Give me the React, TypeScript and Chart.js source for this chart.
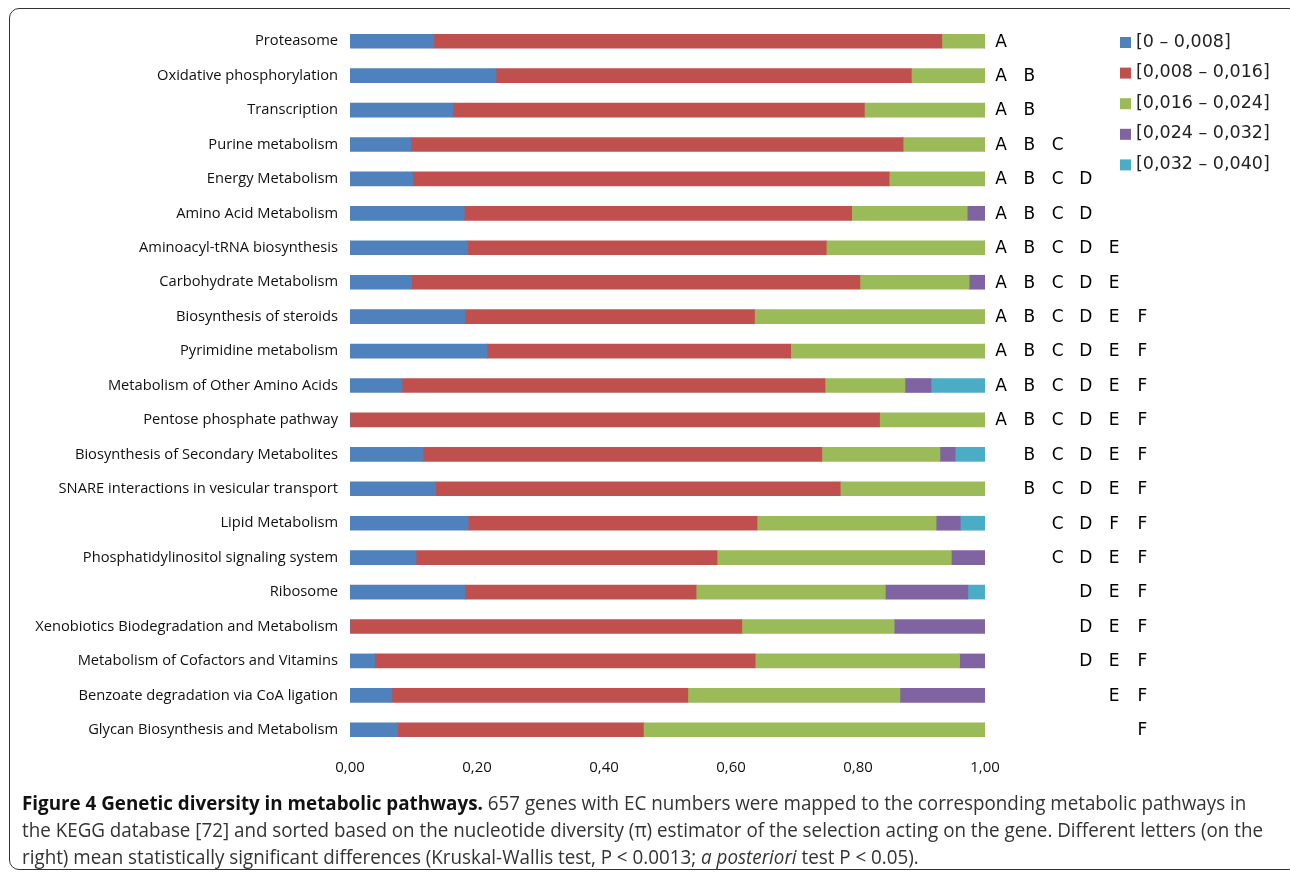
import React, { useEffect, useRef } from "react";
import { Chart, registerables } from "chart.js";

Chart.register(...registerables);

const categories = [
  "Proteasome",
  "Oxidative phosphorylation",
  "Transcription",
  "Purine metabolism",
  "Energy Metabolism",
  "Amino Acid Metabolism",
  "Aminoacyl-tRNA biosynthesis",
  "Carbohydrate Metabolism",
  "Biosynthesis of steroids",
  "Pyrimidine metabolism",
  "Metabolism of Other Amino Acids",
  "Pentose phosphate pathway",
  "Biosynthesis of Secondary Metabolites",
  "SNARE interactions in vesicular transport",
  "Lipid Metabolism",
  "Phosphatidylinositol signaling system",
  "Ribosome",
  "Xenobiotics Biodegradation and Metabolism",
  "Metabolism of Cofactors and Vitamins",
  "Benzoate degradation via CoA ligation",
  "Glycan Biosynthesis and Metabolism",
];

const seriesLabels = [
  "[0 – 0,008]",
  "[0,008 – 0,016]",
  "[0,016 – 0,024]",
  "[0,024 – 0,032]",
  "[0,032 – 0,040]",
];

const seriesColors = ["#4F81BD", "#C0504D", "#9BBB59", "#8064A2", "#4BACC6"];

const range1 = [0.132, 0.230, 0.162, 0.096, 0.099, 0.180, 0.185, 0.097, 0.181, 0.216, 0.082, 0.0, 0.115, 0.135, 0.186, 0.104, 0.181, 0.0, 0.039, 0.066, 0.075];
const range2 = [0.800, 0.654, 0.648, 0.775, 0.750, 0.610, 0.565, 0.706, 0.456, 0.478, 0.666, 0.834, 0.628, 0.637, 0.455, 0.474, 0.364, 0.617, 0.599, 0.466, 0.387];
const range3 = [0.068, 0.116, 0.190, 0.129, 0.151, 0.182, 0.250, 0.172, 0.363, 0.306, 0.126, 0.166, 0.186, 0.228, 0.282, 0.369, 0.298, 0.240, 0.322, 0.334, 0.538];
const range4 = [0, 0, 0, 0, 0, 0.028, 0, 0.025, 0, 0, 0.041, 0, 0.024, 0, 0.038, 0.053, 0.130, 0.143, 0.040, 0.134, 0];
const range5 = [0, 0, 0, 0, 0, 0, 0, 0, 0, 0, 0.085, 0, 0.047, 0, 0.039, 0, 0.027, 0, 0, 0, 0];

// letters per row, "" means empty slot
const groupLetters = [
  ["A", "", "", "", "", ""],
  ["A", "B", "", "", "", ""],
  ["A", "B", "", "", "", ""],
  ["A", "B", "C", "", "", ""],
  ["A", "B", "C", "D", "", ""],
  ["A", "B", "C", "D", "", ""],
  ["A", "B", "C", "D", "E", ""],
  ["A", "B", "C", "D", "E", ""],
  ["A", "B", "C", "D", "E", "F"],
  ["A", "B", "C", "D", "E", "F"],
  ["A", "B", "C", "D", "E", "F"],
  ["A", "B", "C", "D", "E", "F"],
  ["", "B", "C", "D", "E", "F"],
  ["", "B", "C", "D", "E", "F"],
  ["", "", "C", "D", "F", "F"],
  ["", "", "C", "D", "E", "F"],
  ["", "", "", "D", "E", "F"],
  ["", "", "", "D", "E", "F"],
  ["", "", "", "D", "E", "F"],
  ["", "", "", "", "E", "F"],
  ["", "", "", "", "", "F"],
];

const xTicks = [0, 0.2, 0.4, 0.6, 0.8, 1.0];

const lettersAndLegendPlugin = {
  id: "lettersAndLegend",
  afterDraw(chart: any) {
    const ctx = chart.ctx;
    const yScale = chart.scales.y;
    const area = chart.chartArea;
    ctx.save();
    // significance letters
    ctx.font = "17px 'DejaVu Sans'";
    ctx.fillStyle = "#000";
    ctx.textAlign = "center";
    ctx.textBaseline = "middle";
    const firstX = area.right + 16;
    const step = 28.3;
    groupLetters.forEach((row, i) => {
      const y = yScale.getPixelForValue(i);
      row.forEach((letter, j) => {
        if (letter) ctx.fillText(letter, firstX + j * step, y + 1);
      });
    });
    // legend
    const lx = area.right + 135;
    const ly0 = 42;
    const lstep = 30.6;
    ctx.font = "17.5px 'DejaVu Sans'";
    ctx.textAlign = "left";
    seriesLabels.forEach((lab, k) => {
      const y = ly0 + k * lstep;
      ctx.fillStyle = seriesColors[k];
      ctx.fillRect(lx, y - 5, 11, 11);
      ctx.fillStyle = "#222";
      ctx.fillText(lab, lx + 16, y);
    });
    ctx.restore();
  },
};

export default function App() {
  const canvasRef = useRef<HTMLCanvasElement | null>(null);

  useEffect(() => {
    if (!canvasRef.current) return;
    const data = [range1, range2, range3, range4, range5];
    const chart = new Chart(canvasRef.current, {
      type: "bar",
      data: {
        labels: categories,
        datasets: data.map((d, i) => ({
          label: seriesLabels[i],
          data: d,
          backgroundColor: seriesColors[i],
          borderWidth: 0,
          barThickness: 14,
        })),
      },
      options: {
        indexAxis: "y",
        animation: false,
        responsive: false,
        maintainAspectRatio: false,
        layout: {
          padding: { left: 0, right: 305, top: 24, bottom: 13 },
        },
        plugins: {
          legend: { display: false },
          tooltip: { enabled: false },
        },
        scales: {
          x: {
            stacked: true,
            min: 0,
            max: 1,
            afterBuildTicks: (scale: any) => {
              scale.ticks = xTicks.map((v) => ({ value: v }));
            },
            afterFit: (scale: any) => {
              scale.height = 40;
            },
            grid: { display: false, drawTicks: false },
            border: { display: false },
            ticks: {
              padding: 12,
              color: "#111",
              font: { family: "'Open Sans'", size: 15 },
              callback: (v: any) => Number(v).toFixed(2).replace(".", ","),
            },
          },
          y: {
            stacked: true,
            afterFit: (scale: any) => {
              scale.width = 350;
            },
            grid: { display: false, drawTicks: false },
            border: { display: false },
            ticks: {
              padding: 12,
              color: "#111",
              font: { family: "'Open Sans'", size: 14.7 },
              autoSkip: false,
            },
          },
        },
      },
      plugins: [lettersAndLegendPlugin],
    });
    return () => chart.destroy();
  }, []);

  return (
    <div style={{ position: "fixed", left: 0, top: 0, width: 1290, height: 873, background: "#fff", overflow: "hidden" }}>
      <div
        style={{
          position: "absolute",
          left: 9,
          top: 8,
          width: 1290,
          height: 862,
          border: "1.5px solid #333",
          borderRadius: 10,
          boxSizing: "border-box",
        }}
      />
      <canvas
        ref={canvasRef}
        width={1290}
        height={800}
        style={{ position: "absolute", left: 0, top: 0, width: 1290, height: 800 }}
      />
      <div
        style={{
          position: "absolute",
          left: 22,
          top: 789,
          fontFamily: "'Open Sans', sans-serif",
          fontSize: 20,
          lineHeight: "27px",
          color: "#333",
          whiteSpace: "nowrap",
          transform: "scaleX(0.94)",
          transformOrigin: "left top",
        }}
      >
        <b style={{ color: "#111" }}>Figure 4 Genetic diversity in metabolic pathways.</b> 657 genes with EC numbers were mapped to the corresponding metabolic pathways in
        <br />
        the KEGG database [72] and sorted based on the nucleotide diversity (π) estimator of the selection acting on the gene. Different letters (on the
        <br />
        right) mean statistically significant differences (Kruskal-Wallis test, P &lt; 0.0013; <i>a posteriori</i> test P &lt; 0.05).
      </div>
    </div>
  );
}
